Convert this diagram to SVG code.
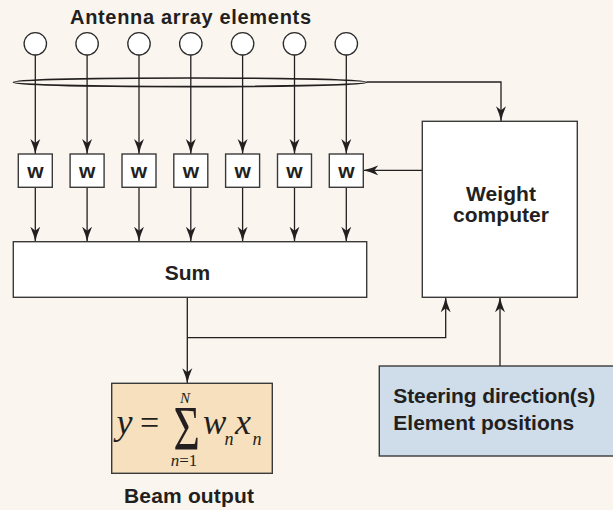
<svg xmlns="http://www.w3.org/2000/svg" width="613" height="510" viewBox="0 0 613 510">
<defs>
<style>
.bg{fill:#faf6ef}
.box{fill:#ffffff;stroke:#3a3a3a;stroke-width:1.4}
.el{fill:#ffffff;stroke:#2b2b2b;stroke-width:1.3}
.wire{fill:none;stroke:#231f20;stroke-width:1.3}
.lbl{font-family:"Liberation Sans",Arial,sans-serif;font-weight:bold;font-size:21px;fill:#231f20}
.mi{font-family:"Liberation Serif","Times New Roman",serif;font-style:italic;fill:#231f20}
.mr{font-family:"Liberation Serif","Times New Roman",serif;fill:#231f20}
</style>
<marker id="ah" markerUnits="userSpaceOnUse" markerWidth="16" markerHeight="12" viewBox="0 0 16 12" refX="15" refY="6" orient="auto">
<path d="M0,1 Q8,4.6 15,6 Q8,7.4 0,11 L4,6 Z" fill="#231f20"/>
</marker>
</defs>
<rect class="bg" x="0" y="0" width="613" height="510"/>

<g id="title">
<text class="lbl" x="70" y="24" textLength="241" lengthAdjust="spacing" style="font-size:20px">Antenna array elements</text>
</g>

<g id="connectors">
<line class="wire" x1="35.3" y1="55" x2="35.3" y2="154" marker-end="url(#ah)"/>
<line class="wire" x1="87.1" y1="55" x2="87.1" y2="154" marker-end="url(#ah)"/>
<line class="wire" x1="139" y1="55" x2="139" y2="154" marker-end="url(#ah)"/>
<line class="wire" x1="190.8" y1="55" x2="190.8" y2="154" marker-end="url(#ah)"/>
<line class="wire" x1="242.6" y1="55" x2="242.6" y2="154" marker-end="url(#ah)"/>
<line class="wire" x1="294.5" y1="55" x2="294.5" y2="154" marker-end="url(#ah)"/>
<line class="wire" x1="346.3" y1="55" x2="346.3" y2="154" marker-end="url(#ah)"/>
<line class="wire" x1="35.3" y1="187.3" x2="35.3" y2="241.7" marker-end="url(#ah)"/>
<line class="wire" x1="87.1" y1="187.3" x2="87.1" y2="241.7" marker-end="url(#ah)"/>
<line class="wire" x1="139" y1="187.3" x2="139" y2="241.7" marker-end="url(#ah)"/>
<line class="wire" x1="190.8" y1="187.3" x2="190.8" y2="241.7" marker-end="url(#ah)"/>
<line class="wire" x1="242.6" y1="187.3" x2="242.6" y2="241.7" marker-end="url(#ah)"/>
<line class="wire" x1="294.5" y1="187.3" x2="294.5" y2="241.7" marker-end="url(#ah)"/>
<line class="wire" x1="346.3" y1="187.3" x2="346.3" y2="241.7" marker-end="url(#ah)"/>
<polyline class="wire" points="366.7,82 501,82 501,121.3" marker-end="url(#ah)"/>
<line class="wire" x1="422.3" y1="170.3" x2="363.3" y2="170.3" marker-end="url(#ah)"/>
<line class="wire" x1="187.3" y1="297.3" x2="187.3" y2="383.3" marker-end="url(#ah)"/>
<polyline class="wire" points="187.3,337.6 445.7,337.6 445.7,297.3" marker-end="url(#ah)"/>
<line class="wire" x1="500" y1="366" x2="500" y2="297.3" marker-end="url(#ah)"/>
</g>

<g id="bundle">
<ellipse cx="190" cy="82.3" rx="176.7" ry="4.3" fill="none" stroke="#231f20" stroke-width="1.6"/>
</g>

<g id="antennas">
<circle class="el" cx="35.3" cy="43.8" r="11.2"/>
<circle class="el" cx="87.1" cy="43.8" r="11.2"/>
<circle class="el" cx="139" cy="43.8" r="11.2"/>
<circle class="el" cx="190.8" cy="43.8" r="11.2"/>
<circle class="el" cx="242.6" cy="43.8" r="11.2"/>
<circle class="el" cx="294.5" cy="43.8" r="11.2"/>
<circle class="el" cx="346.3" cy="43.8" r="11.2"/>
</g>

<g id="w1"><rect class="box" x="18.3" y="154" width="34" height="33.3"/><text class="lbl" x="35.3" y="177.5" text-anchor="middle">w</text></g>
<g id="w2"><rect class="box" x="70.1" y="154" width="34" height="33.3"/><text class="lbl" x="87.1" y="177.5" text-anchor="middle">w</text></g>
<g id="w3"><rect class="box" x="122" y="154" width="34" height="33.3"/><text class="lbl" x="139" y="177.5" text-anchor="middle">w</text></g>
<g id="w4"><rect class="box" x="173.8" y="154" width="34" height="33.3"/><text class="lbl" x="190.8" y="177.5" text-anchor="middle">w</text></g>
<g id="w5"><rect class="box" x="225.6" y="154" width="34" height="33.3"/><text class="lbl" x="242.6" y="177.5" text-anchor="middle">w</text></g>
<g id="w6"><rect class="box" x="277.5" y="154" width="34" height="33.3"/><text class="lbl" x="294.5" y="177.5" text-anchor="middle">w</text></g>
<g id="w7"><rect class="box" x="329.3" y="154" width="34" height="33.3"/><text class="lbl" x="346.3" y="177.5" text-anchor="middle">w</text></g>

<g id="sum">
<rect class="box" x="13.3" y="241.7" width="353.4" height="55.6"/>
<text class="lbl" x="187.5" y="280" text-anchor="middle">Sum</text>
</g>

<g id="weight-computer">
<rect class="box" x="422.3" y="121.3" width="155" height="176"/>
<text class="lbl" x="501" y="200.7" text-anchor="middle" textLength="70" lengthAdjust="spacing">Weight</text>
<text class="lbl" x="501" y="221.7" text-anchor="middle" textLength="96" lengthAdjust="spacing">computer</text>
</g>

<g id="beam-output">
<rect x="111.7" y="383.3" width="160.6" height="90" fill="#f6e0bd" stroke="#3a3a3a" stroke-width="1.4"/>
<text class="mr" x="116.5" y="434" style="font-size:34px"><tspan class="mi" style="font-size:36px">y</tspan><tspan x="140">=</tspan></text>
<text class="mr" transform="translate(186.7,450) scale(0.72,1)" text-anchor="middle" style="font-size:63px">Σ</text>
<text class="mi" x="185" y="403" text-anchor="middle" style="font-size:15px">N</text>
<text class="mr" x="184" y="465.7" text-anchor="middle" style="font-size:17px"><tspan class="mi">n</tspan>=1</text>
<text class="mi" x="203" y="434" style="font-size:35px">w<tspan x="224.5" y="445" style="font-size:18px">n</tspan><tspan x="235" y="434" style="font-size:36px">x</tspan><tspan x="252.5" y="445" style="font-size:18px">n</tspan></text>
<text class="lbl" x="189" y="502.7" text-anchor="middle" textLength="130" lengthAdjust="spacing">Beam output</text>
</g>

<g id="steering">
<rect x="379.3" y="366" width="240" height="90" fill="#cedde9" stroke="#3a3a3a" stroke-width="1.4"/>
<text class="lbl" x="393.3" y="403.3" textLength="202" lengthAdjust="spacing">Steering direction(s)</text>
<text class="lbl" x="393.3" y="430" textLength="181" lengthAdjust="spacing">Element positions</text>
</g>
</svg>
